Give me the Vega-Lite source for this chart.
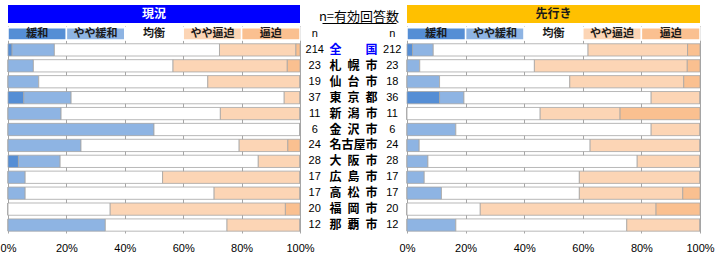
{
  "$schema": "https://vega.github.io/schema/vega-lite/v6.json",
  "background": "white",
  "padding": {"left": 0, "top": 5, "right": 2, "bottom": 2},
  "config": {"view": {"stroke": null}, "font": "Noto Sans CJK JP"},
  "datasets": {
    "survey": [
      {"period": "現況", "city": "全国", "n": 214, "緩和": 3, "やや緩和": 31, "均衡": 121, "やや逼迫": 56, "逼迫": 3},
      {"period": "現況", "city": "札幌市", "n": 23, "緩和": 0, "やや緩和": 2, "均衡": 11, "やや逼迫": 9, "逼迫": 1},
      {"period": "現況", "city": "仙台市", "n": 19, "緩和": 0, "やや緩和": 2, "均衡": 11, "やや逼迫": 6, "逼迫": 0},
      {"period": "現況", "city": "東京都", "n": 37, "緩和": 2, "やや緩和": 6, "均衡": 27, "やや逼迫": 2, "逼迫": 0},
      {"period": "現況", "city": "新潟市", "n": 11, "緩和": 0, "やや緩和": 2, "均衡": 6, "やや逼迫": 3, "逼迫": 0},
      {"period": "現況", "city": "金沢市", "n": 6, "緩和": 0, "やや緩和": 3, "均衡": 3, "やや逼迫": 0, "逼迫": 0},
      {"period": "現況", "city": "名古屋市", "n": 24, "緩和": 0, "やや緩和": 6, "均衡": 13, "やや逼迫": 4, "逼迫": 1},
      {"period": "現況", "city": "大阪市", "n": 28, "緩和": 1, "やや緩和": 4, "均衡": 19, "やや逼迫": 4, "逼迫": 0},
      {"period": "現況", "city": "広島市", "n": 17, "緩和": 0, "やや緩和": 1, "均衡": 8, "やや逼迫": 8, "逼迫": 0},
      {"period": "現況", "city": "高松市", "n": 17, "緩和": 0, "やや緩和": 1, "均衡": 11, "やや逼迫": 5, "逼迫": 0},
      {"period": "現況", "city": "福岡市", "n": 20, "緩和": 0, "やや緩和": 0, "均衡": 7, "やや逼迫": 12, "逼迫": 1},
      {"period": "現況", "city": "那覇市", "n": 12, "緩和": 0, "やや緩和": 4, "均衡": 5, "やや逼迫": 3, "逼迫": 0},
      {"period": "先行き", "city": "全国", "n": 212, "緩和": 4, "やや緩和": 15, "均衡": 112, "やや逼迫": 72, "逼迫": 9},
      {"period": "先行き", "city": "札幌市", "n": 23, "緩和": 0, "やや緩和": 1, "均衡": 9, "やや逼迫": 12, "逼迫": 1},
      {"period": "先行き", "city": "仙台市", "n": 18, "緩和": 0, "やや緩和": 2, "均衡": 8, "やや逼迫": 7, "逼迫": 1},
      {"period": "先行き", "city": "東京都", "n": 36, "緩和": 4, "やや緩和": 3, "均衡": 23, "やや逼迫": 6, "逼迫": 0},
      {"period": "先行き", "city": "新潟市", "n": 11, "緩和": 0, "やや緩和": 0, "均衡": 5, "やや逼迫": 3, "逼迫": 3},
      {"period": "先行き", "city": "金沢市", "n": 6, "緩和": 0, "やや緩和": 1, "均衡": 4, "やや逼迫": 1, "逼迫": 0},
      {"period": "先行き", "city": "名古屋市", "n": 24, "緩和": 0, "やや緩和": 1, "均衡": 14, "やや逼迫": 9, "逼迫": 0},
      {"period": "先行き", "city": "大阪市", "n": 28, "緩和": 0, "やや緩和": 2, "均衡": 20, "やや逼迫": 6, "逼迫": 0},
      {"period": "先行き", "city": "広島市", "n": 17, "緩和": 0, "やや緩和": 1, "均衡": 9, "やや逼迫": 7, "逼迫": 0},
      {"period": "先行き", "city": "高松市", "n": 17, "緩和": 0, "やや緩和": 2, "均衡": 8, "やや逼迫": 6, "逼迫": 1},
      {"period": "先行き", "city": "福岡市", "n": 20, "緩和": 0, "やや緩和": 0, "均衡": 5, "やや逼迫": 12, "逼迫": 3},
      {"period": "先行き", "city": "那覇市", "n": 12, "緩和": 0, "やや緩和": 2, "均衡": 7, "やや逼迫": 3, "逼迫": 0}
    ],
    "cats": [
      {"cat": "緩和", "k": 1},
      {"cat": "やや緩和", "k": 2},
      {"cat": "均衡", "k": 3},
      {"cat": "やや逼迫", "k": 4},
      {"cat": "逼迫", "k": 5}
    ],
    "cities": [
      {"city": "全国", "label": "全\u3000\u3000国"},
      {"city": "札幌市", "label": "札\u2002幌\u2002市"},
      {"city": "仙台市", "label": "仙\u2002台\u2002市"},
      {"city": "東京都", "label": "東\u2002京\u2002都"},
      {"city": "新潟市", "label": "新\u2002潟\u2002市"},
      {"city": "金沢市", "label": "金\u2002沢\u2002市"},
      {"city": "名古屋市", "label": "名古屋市"},
      {"city": "大阪市", "label": "大\u2002阪\u2002市"},
      {"city": "広島市", "label": "広\u2002島\u2002市"},
      {"city": "高松市", "label": "高\u2002松\u2002市"},
      {"city": "福岡市", "label": "福\u2002岡\u2002市"},
      {"city": "那覇市", "label": "那\u2002覇\u2002市"}
    ]
  },
  "spacing": 2,
  "vconcat": [
    {
      "spacing": 0,
      "hconcat": [
        {
          "width": 292, "height": 18,
          "data": {"values": [{"t": "現況"}]},
          "layer": [
            {"mark": {"type": "rect", "color": "#0000FF"}, "encoding": {}},
            {"mark": {"type": "text", "color": "white", "fontWeight": "bold", "fontSize": 12}, "encoding": {"text": {"field": "t"}}}
          ]
        },
        {
          "width": 107, "height": 18,
          "data": {"values": [{"t": "n=有効回答数"}]},
          "mark": {"type": "text", "fontSize": 13, "baseline": "bottom", "dy": 1, "color": "black"},
          "encoding": {
            "text": {"field": "t"},
            "x": {"datum": 0.5, "type": "quantitative", "scale": {"domain": [0, 1], "range": [22, 96]}, "axis": {"orient": "bottom", "labels": false, "ticks": false, "grid": false, "domain": true, "domainColor": "black", "domainWidth": 1, "title": null}},
            "y": {"datum": 0, "type": "quantitative", "scale": {"domain": [0, 1]}, "axis": null}
          }
        },
        {
          "width": 293, "height": 18,
          "data": {"values": [{"t": "先行き"}]},
          "layer": [
            {"mark": {"type": "rect", "color": "#FFC000"}, "encoding": {}},
            {"mark": {"type": "text", "color": "#1a1a1a", "fontWeight": "bold", "fontSize": 12}, "encoding": {"text": {"field": "t"}}}
          ]
        }
      ]
    },
    {
      "spacing": 0,
      "bounds": "flush",
      "hconcat": [
        {
          "width": 292, "height": 207,
          "layer": [
            {
              "data": {"name": "survey"},
              "transform": [
                {"filter": "datum.period === '現況'"},
                {"fold": ["緩和", "やや緩和", "均衡", "やや逼迫", "逼迫"], "as": ["cat", "v"]},
                {"lookup": "cat", "from": {"data": {"name": "cats"}, "key": "cat", "fields": ["k"]}}
              ],
              "mark": {"type": "bar", "stroke": "#A6A6A6", "strokeWidth": 0.8},
              "encoding": {
                "x": {"field": "v", "type": "quantitative", "stack": "normalize", "title": null, "scale": {"domain": [0, 1], "nice": false},
                  "axis": {"values": [0, 0.2, 0.4, 0.6, 0.8, 1], "format": ".0%", "grid": true, "gridColor": "#A6A6A6", "ticks": false, "domain": false, "labelPadding": 9, "labelFontSize": 11, "labelFont": "Liberation Sans", "labelColor": "#000", "labelFlush": false}},
                "y": {"field": "city", "type": "nominal", "axis": null,
                  "scale": {"domain": ["_legend", "全国", "札幌市", "仙台市", "東京都", "新潟市", "金沢市", "名古屋市", "大阪市", "広島市", "高松市", "福岡市", "那覇市"], "paddingInner": 0.23, "paddingOuter": 0.115}},
                "color": {"field": "cat", "type": "nominal", "legend": null,
                  "scale": {"domain": ["緩和", "やや緩和", "均衡", "やや逼迫", "逼迫"], "range": ["#558ED5", "#8EB4E3", "#FFFFFF", "#FCD5B5", "#FAC090"]}},
                "order": {"field": "k", "type": "quantitative"}
              }
            },
            {
              "data": {"name": "cats"},
              "mark": {"type": "bar", "stroke": "white", "strokeWidth": 1.5},
              "encoding": {
                "x": {"aggregate": "count", "type": "quantitative", "stack": "normalize", "title": null},
                "y": {"datum": "_legend", "type": "nominal"},
                "color": {"field": "cat", "type": "nominal"},
                "order": {"field": "k", "type": "quantitative"}
              }
            },
            {
              "data": {"name": "cats"},
              "mark": {"type": "text", "dx": -29.2, "fontSize": 11, "fontWeight": "bold", "color": "#1a1a1a"},
              "encoding": {
                "x": {"aggregate": "count", "type": "quantitative", "stack": "normalize", "title": null},
                "y": {"datum": "_legend", "type": "nominal"},
                "detail": {"field": "cat", "type": "nominal"},
                "order": {"field": "k", "type": "quantitative"},
                "text": {"field": "cat"}
              }
            }
          ]
        },
        {
          "width": 107, "height": 207,
          "layer": [
            {
              "data": {"values": [{"col": "a"}, {"col": "c"}]},
              "mark": {"type": "text", "fontSize": 11, "font": "Liberation Sans", "color": "#000"},
              "encoding": {
                "x": {"field": "col", "type": "nominal", "axis": null, "scale": {"type": "point", "domain": ["a", "b", "c"], "padding": 0.38}},
                "y": {"datum": "_legend", "type": "nominal", "axis": null,
                  "scale": {"domain": ["_legend", "全国", "札幌市", "仙台市", "東京都", "新潟市", "金沢市", "名古屋市", "大阪市", "広島市", "高松市", "福岡市", "那覇市"], "paddingInner": 0.23, "paddingOuter": 0.115}},
                "text": {"value": "n"}
              }
            },
            {
              "data": {"name": "survey"},
              "transform": [{"filter": "datum.period === '現況'"}],
              "mark": {"type": "text", "fontSize": 11, "font": "Liberation Sans", "color": "#000"},
              "encoding": {
                "x": {"datum": "a", "type": "nominal"},
                "y": {"field": "city", "type": "nominal"},
                "text": {"field": "n"}
              }
            },
            {
              "data": {"name": "survey"},
              "transform": [{"filter": "datum.period === '先行き'"}],
              "mark": {"type": "text", "fontSize": 11, "font": "Liberation Sans", "color": "#000"},
              "encoding": {
                "x": {"datum": "c", "type": "nominal"},
                "y": {"field": "city", "type": "nominal"},
                "text": {"field": "n"}
              }
            },
            {
              "data": {"name": "cities"},
              "mark": {"type": "text", "fontSize": 12, "fontWeight": "bold"},
              "encoding": {
                "x": {"datum": "b", "type": "nominal"},
                "y": {"field": "city", "type": "nominal"},
                "text": {"field": "label"},
                "color": {"condition": {"test": "datum.city === '全国'", "value": "#0000FF"}, "value": "#000"}
              }
            }
          ]
        },
        {
          "width": 293, "height": 207,
          "layer": [
            {
              "data": {"name": "survey"},
              "transform": [
                {"filter": "datum.period === '先行き'"},
                {"fold": ["緩和", "やや緩和", "均衡", "やや逼迫", "逼迫"], "as": ["cat", "v"]},
                {"lookup": "cat", "from": {"data": {"name": "cats"}, "key": "cat", "fields": ["k"]}}
              ],
              "mark": {"type": "bar", "stroke": "#A6A6A6", "strokeWidth": 0.8},
              "encoding": {
                "x": {"field": "v", "type": "quantitative", "stack": "normalize", "title": null, "scale": {"domain": [0, 1], "nice": false},
                  "axis": {"values": [0, 0.2, 0.4, 0.6, 0.8, 1], "format": ".0%", "grid": true, "gridColor": "#A6A6A6", "ticks": false, "domain": false, "labelPadding": 9, "labelFontSize": 11, "labelFont": "Liberation Sans", "labelColor": "#000", "labelFlush": false}},
                "y": {"field": "city", "type": "nominal", "axis": null,
                  "scale": {"domain": ["_legend", "全国", "札幌市", "仙台市", "東京都", "新潟市", "金沢市", "名古屋市", "大阪市", "広島市", "高松市", "福岡市", "那覇市"], "paddingInner": 0.23, "paddingOuter": 0.115}},
                "color": {"field": "cat", "type": "nominal", "legend": null,
                  "scale": {"domain": ["緩和", "やや緩和", "均衡", "やや逼迫", "逼迫"], "range": ["#558ED5", "#8EB4E3", "#FFFFFF", "#FCD5B5", "#FAC090"]}},
                "order": {"field": "k", "type": "quantitative"}
              }
            },
            {
              "data": {"name": "cats"},
              "mark": {"type": "bar", "stroke": "white", "strokeWidth": 1.5},
              "encoding": {
                "x": {"aggregate": "count", "type": "quantitative", "stack": "normalize", "title": null},
                "y": {"datum": "_legend", "type": "nominal"},
                "color": {"field": "cat", "type": "nominal"},
                "order": {"field": "k", "type": "quantitative"}
              }
            },
            {
              "data": {"name": "cats"},
              "mark": {"type": "text", "dx": -29.3, "fontSize": 11, "fontWeight": "bold", "color": "#1a1a1a"},
              "encoding": {
                "x": {"aggregate": "count", "type": "quantitative", "stack": "normalize", "title": null},
                "y": {"datum": "_legend", "type": "nominal"},
                "detail": {"field": "cat", "type": "nominal"},
                "order": {"field": "k", "type": "quantitative"},
                "text": {"field": "cat"}
              }
            }
          ]
        }
      ]
    }
  ]
}
